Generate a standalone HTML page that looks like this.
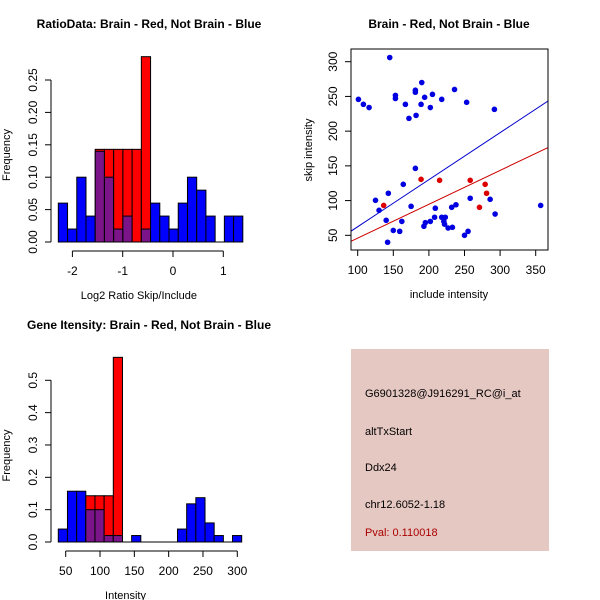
<!DOCTYPE html>
<html><head><meta charset="utf-8"><style>
body{margin:0;background:#fff}
svg{display:block;font-family:"Liberation Sans",sans-serif}
</style></head><body>
<svg id="chart" width="600" height="600" viewBox="0 0 600 600">
<rect width="600" height="600" fill="#fff"/>
<g id="p1"></g>
<g id="p2"></g>
<g id="p3"></g>
<g>
<rect x="351" y="349" width="198" height="202" fill="#e6c8c2"/>
<text x="365" y="397" font-size="11" fill="#000">G6901328@J916291_RC@i_at</text>
<text x="365" y="435" font-size="11" fill="#000">altTxStart</text>
<text x="365" y="471" font-size="11" fill="#000">Ddx24</text>
<text x="365" y="508" font-size="11" fill="#000">chr12.6052-1.18</text>
<text x="365" y="536" font-size="11" fill="#aa0000">Pval: 0.110018</text>
</g>
</svg>
<script>
// Histogram 1 data
const h1Start = -2.28, h1Width = 0.1834;
const h1Blue = [0.06,0.02,0.10,0.04,0.14,0.10,0.02,0.04,0,0.02,0.06,0.04,0.02,0.06,0.10,0.08,0.04,0,0.04,0.04];
const h1Red = [0,0,0,0,0.143,0.143,0.143,0.143,0.143,0.286,0,0,0,0,0,0,0,0,0,0];
const h1XTicks = [-2,-1,0,1];
const h1YTicks = ["0.00","0.05","0.10","0.15","0.20","0.25"];
// Histogram 2 data
const h3Start = 39.2, h3Width = 13.36;
const h3Blue = [0.04,0.157,0.157,0.10,0.10,0.02,0.02,0,0.02,0,0,0,0,0.04,0.118,0.137,0.059,0.02,0,0.02];
const h3Red = [0,0,0,0.143,0.143,0.143,0.571,0,0,0,0,0,0,0,0,0,0,0,0,0];
const h3XTicks = [50,100,150,200,250,300];
const h3YTicks = ["0.0","0.1","0.2","0.3","0.4","0.5"];
// Scatter data
const blueX = [101,108,116,145,153,153,167,172,181,181,182,190,189,194,202,205,218,236,253,292,181,164,125,143,130,140,142,150,159,162,175,193,195,202,208,209,218,221,222,223,227,233,232,238,250,255,258,286,293,357];
const blueY = [245.8,238.6,234,306,251.5,247,238.6,218.4,259,256,222.7,270,238.6,248.7,234,253,245.8,260,241.5,231.4,146.4,123.4,100.4,110.5,86,71.6,40,57,55.7,70,91.7,63,68.2,70,76,89,76,70,66,76,60.5,61.5,90.3,94,50,55.7,103.3,101.8,80.6,93];
const redX = [136.5,189,215,258,279,281,271];
const redY = [93,130.6,129.2,129.2,123.4,110.5,90.3];
const blueFit = [-5.4,0.6775];
const redFit = [-2.9,0.488];
const sXTicks = [100,150,200,250,300,350];
const sYTicks = [50,100,150,200,250,300];

const NS="http://www.w3.org/2000/svg";
function mk(parent,tag,attrs){const e=document.createElementNS(NS,tag);for(const k in attrs)e.setAttribute(k,attrs[k]);parent.appendChild(e);return e;}
function txt(parent,x,y,s,size,rot,anchor,weight){const t=mk(parent,'text',{x:x,y:y,'font-size':size,'text-anchor':anchor||'middle',fill:'#000'});if(weight)t.setAttribute('font-weight',weight);if(rot)t.setAttribute('transform','rotate(-90 '+x+' '+y+')');t.textContent=s;return t;}

function hist(g,start,width,blue,red,xs,ys,xTicks,yTicks,yMaxTickVal,title,xlab,top){
  const X=v=>xs.a+(v-xs.v0)*xs.k, Y=v=>ys.a-v*ys.k;
  for(let i=0;i<blue.length;i++){
    const x0=X(start+i*width), x1=X(start+(i+1)*width);
    const b=blue[i], r=red[i];
    if(r>0){const e=mk(g,'rect',{x:x0,y:Y(r),width:x1-x0,height:Y(0)-Y(r),fill:'#ff0000',stroke:'#000','stroke-width':1});
      
      }
    if(b>0){const e=mk(g,'rect',{x:x0,y:Y(b),width:x1-x0,height:Y(0)-Y(b),fill:(r>0?'#7a1488':'#0000ff'),stroke:'#000','stroke-width':1});
      
      }
    if(r>0&&b>r){const e=mk(g,'rect',{x:x0,y:Y(b),width:x1-x0,height:Y(r)-Y(b),fill:'#0000ff',stroke:'#000','stroke-width':1});
      
      }
  }
  mk(g,'line',{x1:X(start),x2:X(start+width*blue.length),y1:Y(0),y2:Y(0),stroke:'#000'});
  const ax=ys.a+9;
  mk(g,'line',{x1:X(xTicks[0]),x2:X(xTicks[xTicks.length-1]),y1:ax,y2:ax,stroke:'#000'});
  xTicks.forEach(v=>{mk(g,'line',{x1:X(v),x2:X(v),y1:ax,y2:ax+6,stroke:'#000'});const t=txt(g,X(v),ax+24,String(v),12);
    
    });
  const yx=51;
  mk(g,'line',{x1:yx,x2:yx,y1:Y(0),y2:Y(yMaxTickVal),stroke:'#000'});
  yTicks.forEach(s=>{const v=parseFloat(s);mk(g,'line',{x1:yx,x2:yx-6,y1:Y(v),y2:Y(v),stroke:'#000'});const t=txt(g,yx-14,Y(v),s,12,true);
    
    });
  const tt=txt(g,149,top,title,12,false,'middle','bold');
  
  
  const xl=txt(g,X((xTicks[0]+xTicks[xTicks.length-1])/2)+ (xs.lab||0),ax+48,xlab,11);
  
  
  const yl=txt(g,10,ys.a-(ys.a-top)/2+20,'Frequency',11,true);
  
  
}
hist(document.getElementById('p1'),h1Start,h1Width,h1Blue,h1Red,{a:173,v0:0,k:50.3,lab:-9},{a:242,k:648},h1XTicks,h1YTicks,0.25,'RatioData: Brain - Red, Not Brain - Blue','Log2 Ratio Skip/Include',28);
hist(document.getElementById('p3'),h3Start,h3Width,h3Blue,h3Red,{a:65.7,v0:50,k:0.6864,lab:-26},{a:542,k:323.4},h3XTicks,h3YTicks,0.5,'Gene Itensity: Brain - Red, Not Brain - Blue','Intensity',329);

(function(){
  const g=document.getElementById('p2');
  const X=v=>357.7+(v-100)*0.712, Y=v=>235.3-(v-50)*0.6944;
  const L=351,R=548,T=49,B=250;
  const cp=mk(g,'clipPath',{id:'sc'});mk(cp,'rect',{x:L,y:T,width:R-L,height:B-T});
  const lg=mk(g,'g',{'clip-path':'url(#sc)'});
  const xa=(L-357.7)/0.712+100, xb=(R-357.7)/0.712+100;
  const bl=mk(lg,'line',{x1:X(xa),y1:Y(blueFit[0]+blueFit[1]*xa),x2:X(xb),y2:Y(blueFit[0]+blueFit[1]*xb),stroke:'#0000cc','stroke-width':1});
  
  
  const rl=mk(lg,'line',{x1:X(xa),y1:Y(redFit[0]+redFit[1]*xa),x2:X(xb),y2:Y(redFit[0]+redFit[1]*xb),stroke:'#cc0000','stroke-width':1});
  
  
  blueX.forEach((x,i)=>{const c=mk(g,'circle',{cx:X(x),cy:Y(blueY[i]),r:2.8,fill:'#0000e0'});
    
    });
  redX.forEach((x,i)=>{const c=mk(g,'circle',{cx:X(x),cy:Y(redY[i]),r:2.8,fill:'#dd0000'});
    
    });
  mk(g,'rect',{x:L,y:T,width:R-L,height:B-T,fill:'none',stroke:'#000'});
  sXTicks.forEach(v=>{mk(g,'line',{x1:X(v),x2:X(v),y1:B,y2:B+6,stroke:'#000'});const t=txt(g,X(v),B+24,String(v),12);
    
    });
  sYTicks.forEach(v=>{mk(g,'line',{x1:L,x2:L-6,y1:Y(v),y2:Y(v),stroke:'#000'});const t=txt(g,L-14,Y(v),String(v),12,true);
    
    });
  const tt=txt(g,449,28,'Brain - Red, Not Brain - Blue',12,false,'middle','bold');
  
  
  const xl=txt(g,449,298,'include intensity',11);
  
  
  const yl=txt(g,312,150,'skip intensity',11,true);
  
  
})();
</script>
</body></html>
